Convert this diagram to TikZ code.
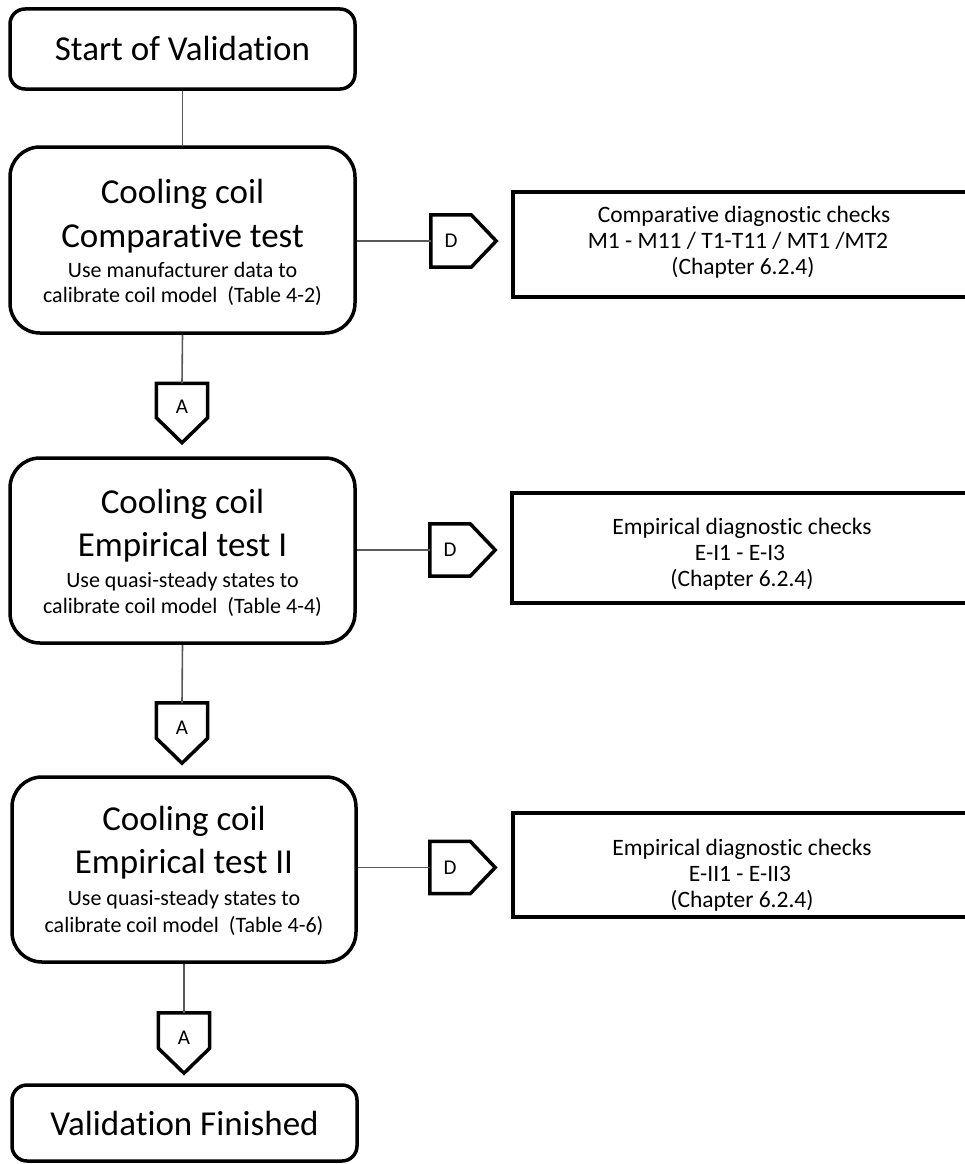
\documentclass[tikz,border=0pt]{standalone}
\usepackage{fontspec}
\setmainfont{Carlito}[RawFeature={-liga;-clig;-calt;-dlig}]
\usetikzlibrary{calc}
\begin{document}
\begin{tikzpicture}[x=1pt,y=-1pt,
  stage/.style={draw=black,line width=3.5pt,rounded corners=#1,inner sep=0pt,fill=white},
  checkbox/.style={draw=black,line width=4pt,inner sep=0pt},
  big/.style={anchor=base,inner sep=0pt,font=\fontsize{35}{40}\selectfont},
  small/.style={anchor=base,inner sep=0pt,font=\fontsize{22}{26}\selectfont},
  chk/.style={anchor=base,inner sep=0pt,font=\fontsize{23.5}{26}\selectfont},
  tagbox/.style={inner sep=0pt,font=\fontsize{21}{22}\selectfont},
  tagline/.style={line width=3.5pt,line join=miter},
  conn/.style={draw=black!65,line width=1.6pt}]
\useasboundingbox (0,0) rectangle (965,1164);
\clip (0,0) rectangle (965,1164);
\fill[white] (0,0) rectangle (965,1164);

% main column boxes
\node[stage=15pt,minimum width=345pt,minimum height=80pt] (start) at (182.5,49) {};
\node[big] (tstart) at (182.5,61) {Start of Validation};

\node[stage=30pt,minimum width=345pt,minimum height=186pt] (b1) at (182.5,240) {};
\node[big] (b1a) at (182.5,203) {Cooling coil};
\node[big] (b1b) at (182.5,247) {Comparative test};
\node[small] (b1c) at (182.5,277) {Use manufacturer data to};
\node[small] (b1d) at (182.5,302) {calibrate coil model\ \ (Table 4-2)};

\node[stage=30pt,minimum width=345pt,minimum height=185pt] (b2) at (182.5,550.5) {};
\node[big] (b2a) at (182.5,513) {Cooling coil};
\node[big] (b2b) at (182.5,556) {Empirical test I};
\node[small] (b2c) at (182.5,587) {Use quasi-steady states to};
\node[small] (b2d) at (182.5,613) {calibrate coil model\ \ (Table 4-4)};

\node[stage=30pt,minimum width=344pt,minimum height=185pt] (b3) at (184,869.5) {};
\node[big] (b3a) at (184,830) {Cooling coil};
\node[big] (b3b) at (184,873) {Empirical test II};
\node[small] (b3c) at (184,905) {Use quasi-steady states to};
\node[small] (b3d) at (184,932) {calibrate coil model\ \ (Table 4-6)};

\node[stage=15pt,minimum width=345pt,minimum height=76pt] (fin) at (184.5,1123) {};
\node[big] (tfin) at (184.5,1135) {Validation Finished};

% A tags
\node[tagbox,minimum width=51pt,minimum height=34pt] (A1) at (182,400.5) {\raisebox{-12.5pt}[0pt][0pt]{A}};
\node[tagbox,minimum width=51pt,minimum height=35pt] (A2) at (182,720.5) {\raisebox{-14pt}[0pt][0pt]{A}};
\node[tagbox,minimum width=51pt,minimum height=35pt] (A3) at (184,1030.5) {\raisebox{-14pt}[0pt][0pt]{A}};
\foreach \t in {A1,A2,A3}{
  \draw[tagline] (\t.north west) -- (\t.north east) -- (\t.south east)
    -- ($(\t.south)+(0,25)$) -- (\t.south west) -- cycle;
}

% D tags
\node[tagbox,minimum width=40pt,minimum height=52pt] (D1) at (451,241) {D};
\node[tagbox,minimum width=40pt,minimum height=52pt] (D2) at (450,550) {D};
\node[tagbox,minimum width=40pt,minimum height=52pt] (D3) at (450,867.5) {D};
\foreach \t in {D1,D2,D3}{
  \draw[tagline] (\t.north west) -- (\t.north east) -- ($(\t.east)+(25,0)$)
    -- (\t.south east) -- (\t.south west) -- cycle;
}

% check boxes
\node[checkbox,minimum width=487pt,minimum height=105pt] (c1) at (756.5,244.5) {};
\node[chk] (c1a) at (744,222) {Comparative diagnostic checks};
\node[chk] (c1b) at (738,248) {M1 - M11 / T1-T11 / MT1 /MT2};
\node[chk] (c1c) at (743,274) {(Chapter 6.2.4)};

\node[checkbox,minimum width=488pt,minimum height=110pt] (c2) at (756,548) {};
\node[chk] (c2a) at (742,534) {Empirical diagnostic checks};
\node[chk] (c2b) at (740,560) {E-I1 - E-I3};
\node[chk] (c2c) at (742,586) {(Chapter 6.2.4)};

\node[checkbox,minimum width=487pt,minimum height=104pt] (c3) at (756.5,865) {};
\node[chk] (c3a) at (742,855) {Empirical diagnostic checks};
\node[chk] (c3b) at (740,881) {E-II1 - E-II3};
\node[chk] (c3c) at (742,907) {(Chapter 6.2.4)};

% connectors
\draw[conn] (start.south) -- (b1.north);
\draw[conn] (b1.south) -- (A1.north);
\draw[conn] (b2.south) -- (A2.north);
\draw[conn] (b3.south) -- (A3.north);
\draw[conn] (D1.west -| b1.east) -- (D1.west);
\draw[conn] (D2.west -| b2.east) -- (D2.west);
\draw[conn] (D3.west -| b3.east) -- (D3.west);
\end{tikzpicture}
\end{document}
